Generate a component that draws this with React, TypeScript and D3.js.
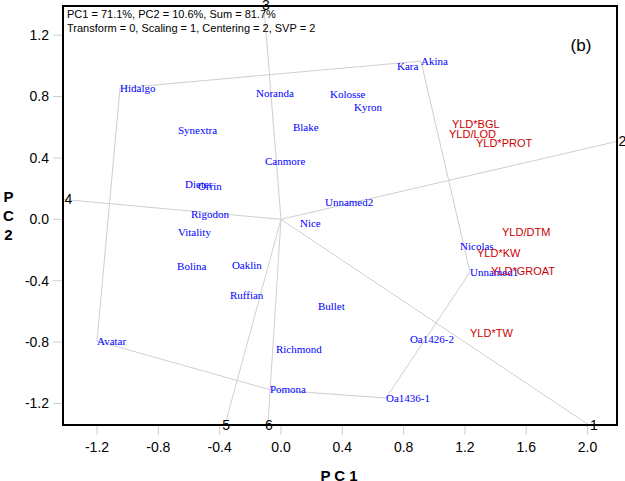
import React from "react";
import * as d3 from "d3";

const genotypeNames = ["Hidalgo","Noranda","Kolosse","Kyron","Kara","Akina","Synextra","Blake","Canmore","Dieter","Orrin","Rigodon","Vitality","Nice","Unnamed2","Bolina","Oaklin","Ruffian","Bullet","Richmond","Pomona","Avatar","Oa1426-2","Oa1436-1","Nicolas","Unnamed1"];
const genotypePC1 = [-1.050,-0.163,0.320,0.476,0.757,0.913,-0.672,0.078,-0.104,-0.626,-0.541,-0.587,-0.672,0.124,0.287,-0.678,-0.320,-0.333,0.241,-0.033,-0.072,-1.200,0.841,0.685,1.168,1.233];
const genotypePC2 = [0.855,0.822,0.816,0.732,0.998,1.031,0.582,0.601,0.380,0.230,0.217,0.034,-0.083,-0.024,0.113,-0.308,-0.302,-0.497,-0.565,-0.851,-1.110,-0.793,-0.780,-1.164,-0.180,-0.343];

const traitNames = ["YLD*BGL","YLD/LOD","YLD*PROT","YLD/DTM","YLD*KW","YLD*GROAT","YLD*TW"];
const traitPC1 = [1.115,1.096,1.272,1.442,1.279,1.370,1.233];
const traitPC2 = [0.620,0.556,0.497,-0.083,-0.220,-0.337,-0.741];

const hullNames = ["Hidalgo","Akina","Unnamed1","Oa1436-1","Pomona","Avatar"];

const rayLabels = ["1","2","3","4","5","6"];
const rayPC1 = [2.009,2.192,-0.111,-1.422,-0.365,-0.085];
const rayPC2 = [-1.340,0.508,1.389,0.130,-1.340,-1.340];

const xTicks = [-1.2,-0.8,-0.4,0.0,0.4,0.8,1.2,1.6,2.0];
const yTicks = [-1.2,-0.8,-0.4,0.0,0.4,0.8,1.2];

const headerLines = ["PC1 = 71.1%, PC2 = 10.6%, Sum = 81.7%","Transform = 0, Scaling = 1, Centering = 2, SVP = 2"];
const panelTag = "(b)";

export default function App() {
  const W = 625, H = 481;
  const left = 63, right = 617, top = 6, bottom = 425;
  const x = d3.scaleLinear().domain([-1.422, 2.192]).range([left, right]);
  const y = d3.scaleLinear().domain([-1.340, 1.390]).range([bottom, top]);
  const gray = "#cfcfcf";
  const sans = "Arial, 'Liberation Sans', sans-serif";
  const serif = "'Times New Roman', 'Liberation Serif', serif";

  const hullPts = hullNames.map((n) => {
    const i = genotypeNames.indexOf(n);
    return [x(genotypePC1[i]), y(genotypePC2[i])] as [number, number];
  });
  const hullPath = d3.line()(hullPts.concat([hullPts[0]])) as string;

  return (
    <svg width={W} height={H} style={{ position: "absolute", left: 0, top: 0, background: "#fff" }}>
      <rect x={0} y={0} width={W} height={H} fill="#fff" />
      <path d={hullPath} fill="none" stroke={gray} strokeWidth={1} />
      {rayLabels.map((l, i) => (
        <line key={"r" + i} x1={x(0)} y1={y(0)} x2={x(rayPC1[i])} y2={y(rayPC2[i])} stroke={gray} strokeWidth={1} />
      ))}
      {rayLabels.map((l, i) => {
        const px = x(rayPC1[i]);
        const py = y(rayPC2[i]);
        const vertical = i === 2 || i === 4 || i === 5 || i === 0;
        return (
          <text key={"rl" + i} x={i === 0 ? px + 5 : i === 2 ? px + 2 : vertical ? px + 1 : px + 1.5} y={i === 2 ? py - 1 : py} dy="0.35em"
            textAnchor={vertical ? "middle" : "start"} fontFamily={sans} fontSize={14} fill="#000">{l}</text>
        );
      })}
      {genotypeNames.map((n, i) => (
        <text key={"g" + i} x={x(genotypePC1[i])} y={y(genotypePC2[i])} dy="0.32em" fontFamily={serif} fontSize={11} fill="#0000ff">{n}</text>
      ))}
      {traitNames.map((n, i) => (
        <text key={"t" + i} x={x(traitPC1[i])} y={y(traitPC2[i])} dy="0.35em" fontFamily={sans} fontSize={11} fill="#cc0000">{n}</text>
      ))}
      {headerLines.map((t, i) => (
        <text key={"h" + i} x={67} y={18 + i * 14} fontFamily={sans} fontSize={11} fill="#000">{t}</text>
      ))}
      <text x={581} y={45} dy="0.35em" textAnchor="middle" fontFamily={sans} fontSize={17} fill="#000">{panelTag}</text>
      {xTicks.map((t) => (
        <g key={"xt" + t}>
          <line x1={x(t)} x2={x(t)} y1={bottom} y2={bottom + 10} stroke={gray} strokeWidth={1} />
          <text x={x(t)} y={447} dy="0.35em" textAnchor="middle" fontFamily={sans} fontSize={14} fill="#000">{t.toFixed(1)}</text>
        </g>
      ))}
      {yTicks.map((t) => (
        <g key={"yt" + t}>
          <line x1={left - 10} x2={left} y1={y(t)} y2={y(t)} stroke={gray} strokeWidth={1} />
          <text x={49} y={y(t)} dy="0.35em" textAnchor="end" fontFamily={sans} fontSize={14} fill="#000">{t.toFixed(1)}</text>
        </g>
      ))}
      <rect x={left} y={top} width={right - left} height={bottom - top} fill="none" stroke="#000" strokeWidth={2} />
      <text x={339} y={476} dy="0.35em" textAnchor="middle" fontFamily={sans} fontSize={15} fontWeight="bold" fill="#000">P C 1</text>
      {["P", "C", "2"].map((c, i) => (
        <text key={"pc2" + i} x={8.5} y={197 + i * 19} dy="0.35em" textAnchor="middle" fontFamily={sans} fontSize={15} fontWeight="bold" fill="#000">{c}</text>
      ))}
    </svg>
  );
}
